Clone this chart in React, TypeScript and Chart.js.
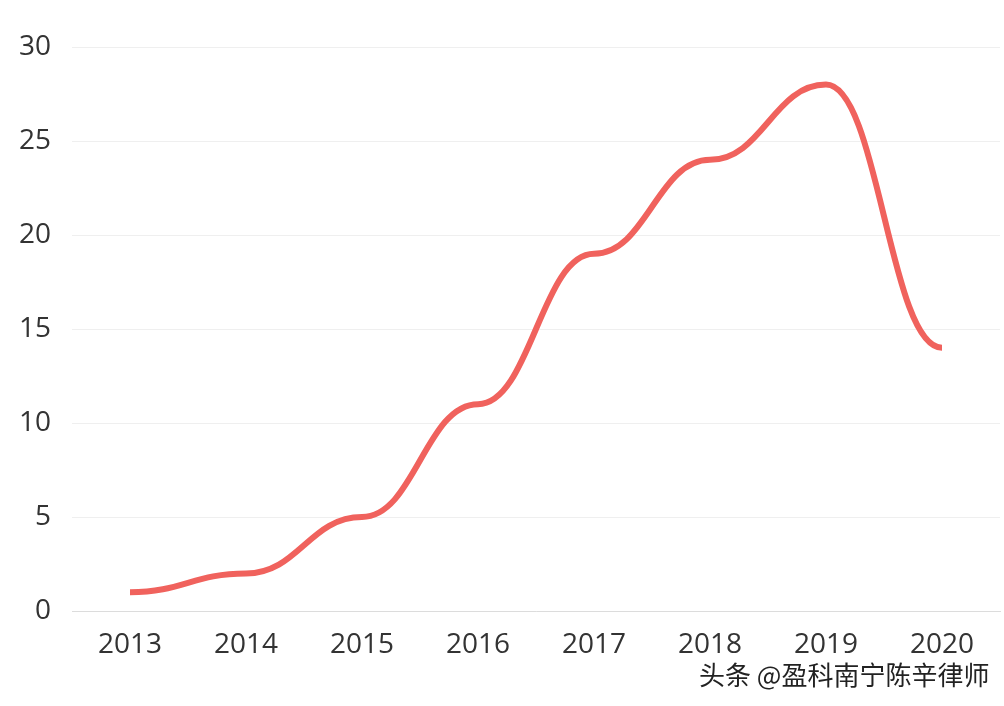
import React, { useEffect, useRef } from "react";
import { Chart, registerables } from "chart.js";

Chart.register(...registerables);

const years = ["2013", "2014", "2015", "2016", "2017", "2018", "2019", "2020"];
const values = [1, 2, 5, 11, 19, 24, 28, 14];
const yTicks = [0, 5, 10, 15, 20, 25, 30];
const watermark = "头条 @盈科南宁陈辛律师";

const flatTangentPlugin = {
  id: "flatTangent",
  beforeDatasetsDraw(chart: any) {
    chart.data.datasets.forEach((_: any, i: number) => {
      const meta = chart.getDatasetMeta(i);
      if (meta.type !== "line" || !meta.dataset) return;
      meta.dataset.updateControlPoints(chart.chartArea, "x");
      const pts = meta.data;
      const k = 0.45;
      for (let j = 0; j < pts.length; j++) {
        const p = pts[j];
        const prev = pts[j - 1];
        const next = pts[j + 1];
        p.cp1x = prev ? p.x - (p.x - prev.x) * k : p.x;
        p.cp1y = p.y;
        p.cp2x = next ? p.x + (next.x - p.x) * k : p.x;
        p.cp2y = p.y;
      }
    });
  },
};

export default function App() {
  const ref = useRef<HTMLCanvasElement | null>(null);
  useEffect(() => {
    if (!ref.current) return;
    const font = { family: "'Open Sans', 'Noto Sans', sans-serif", size: 28 };
    const chart = new Chart(ref.current, {
      type: "line",
      data: {
        labels: years,
        datasets: [
          {
            data: values,
            borderColor: "#f0625d",
            borderWidth: 6,
            pointRadius: 0,
            tension: 0.4,
            fill: false,
          },
        ],
      },
      options: {
        animation: false,
        responsive: false,
        maintainAspectRatio: false,
        layout: { padding: { top: 47, right: 4, left: 0, bottom: 0 } },
        plugins: { legend: { display: false }, tooltip: { enabled: false } },
        scales: {
          x: {
            offset: true,
            grid: { display: false, drawTicks: false },
            border: { display: true, color: "#dcdcdc", width: 1 },
            ticks: { color: "#333", font, padding: 17, maxRotation: 0 },
            afterFit: (s: any) => {
              s.height = 95;
            },
          },
          y: {
            min: 0,
            max: 30,
            afterBuildTicks: (s: any) => {
              s.ticks = yTicks.map((v) => ({ value: v }));
            },
            grid: { color: "#efefef", drawTicks: false, lineWidth: 1 },
            border: { display: false },
            ticks: { color: "#333", font, padding: 21 },
            afterFit: (s: any) => {
              s.width = 72;
            },
          },
        },
      },
      plugins: [flatTangentPlugin],
    });
    return () => chart.destroy();
  }, []);

  return (
    <div
      style={{
        position: "fixed",
        left: 0,
        top: 0,
        width: 1004,
        height: 706,
        background: "#fff",
        overflow: "hidden",
      }}
    >
      <canvas ref={ref} width={1004} height={706} style={{ display: "block" }} />
      <div
        style={{
          position: "absolute",
          left: 699,
          top: 657,
          fontFamily: "'Noto Sans CJK SC', sans-serif",
          fontSize: 26,
          lineHeight: "34px",
          color: "#222",
          textShadow: "0 0 2px #fff, 0 0 2px #fff",
          whiteSpace: "nowrap",
        }}
      >
        {watermark}
      </div>
    </div>
  );
}
